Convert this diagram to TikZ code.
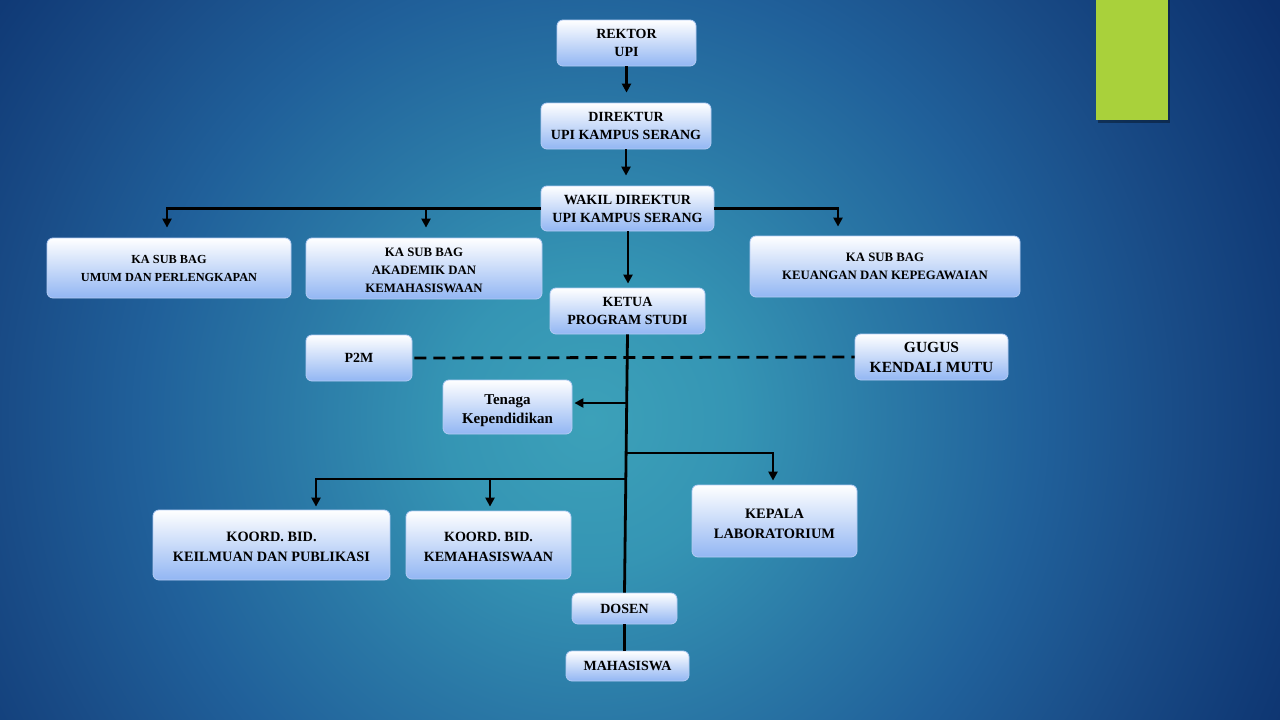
\documentclass[tikz,border=0pt]{standalone}
\usepackage{fontspec}
\setmainfont{Liberation Serif}
\usetikzlibrary{arrows.meta}
\definecolor{bga}{HTML}{3CA1B9}
\definecolor{bgb}{HTML}{3595B4}
\definecolor{bgc}{HTML}{2A78A6}
\definecolor{bgd}{HTML}{20609A}
\definecolor{bge}{HTML}{194B86}
\definecolor{bgf}{HTML}{113C78}
\definecolor{bgo}{HTML}{0C306C}
\definecolor{boxb}{HTML}{92B6F3}
\definecolor{boxedge}{HTML}{B4CCF4}
\definecolor{lime}{HTML}{A9D13B}
\pgfdeclareradialshading{bgshade}{\pgfpoint{0bp}{0bp}}{color(0bp)=(bga); color(4.5bp)=(bgb); color(9.5bp)=(bgc); color(14bp)=(bgd); color(18.5bp)=(bge); color(22bp)=(bgf); color(25bp)=(bgo); color(50bp)=(bgo)}
\tikzset{
  orgbox/.style={draw=boxedge, line width=0.8pt, rounded corners=6pt,
    top color=white, middle color=white!88!boxb, bottom color=boxb,
    align=center, inner sep=0pt, font=\bfseries\fontsize{14}{18}\selectfont},
  conn/.style={line width=2.8pt, black},
  arr/.style={conn, -{Triangle[length=9pt,width=9pt]}},
}
\begin{document}
\begin{tikzpicture}[x=1pt,y=-1pt]
\useasboundingbox (0,0) rectangle (1280,720);
\begin{scope}
\clip (0,0) rectangle (1280,720);
\fill[bgo] (0,0) rectangle (1280,720);
\shade[shading=bgshade] (590,420) circle (800);
\end{scope}
% green bar
\fill[black, opacity=0.35] (1098,0) rectangle (1170,123);
\fill[lime] (1096,0) rectangle (1168,120);
% boxes
\node[orgbox, minimum width=139pt, minimum height=46pt] (rektor) at (626.5,43) {REKTOR\\UPI};
\node[orgbox, minimum width=170pt, minimum height=46pt] (direktur) at (626,126) {DIREKTUR\\UPI KAMPUS SERANG};
\node[orgbox, minimum width=173pt, minimum height=45pt] (wakil) at (627.5,208.5) {WAKIL DIREKTUR\\UPI KAMPUS SERANG};
\node[orgbox, minimum width=244pt, minimum height=60pt, font=\bfseries\fontsize{12.3}{18}\selectfont] (umum) at (169,268) {KA SUB BAG\\UMUM DAN PERLENGKAPAN};
\node[orgbox, minimum width=236pt, minimum height=61pt, font=\bfseries\fontsize{12.8}{18}\selectfont] (akademik) at (424,268.5) {\rule{0pt}{12pt}KA SUB BAG\\AKADEMIK DAN\\KEMAHASISWAAN};
\node[orgbox, minimum width=270pt, minimum height=61pt, font=\bfseries\fontsize{12.8}{18}\selectfont] (keuangan) at (885,266.5) {KA SUB BAG\\KEUANGAN DAN KEPEGAWAIAN};
\node[orgbox, minimum width=155pt, minimum height=46pt] (ketua) at (627.5,311) {KETUA\\PROGRAM STUDI};
\node[orgbox, minimum width=106pt, minimum height=46pt] (p2m) at (359,358) {P2M};
\node[orgbox, minimum width=153pt, minimum height=46pt, font=\bfseries\fontsize{15.5}{20}\selectfont] (gugus) at (931.5,357) {GUGUS\\KENDALI MUTU};
\node[orgbox, minimum width=129pt, minimum height=54pt, font=\bfseries\fontsize{15}{19}\selectfont] (tenaga) at (507.5,407) {\rule{0pt}{18pt}Tenaga\\Kependidikan};
\node[orgbox, minimum width=237pt, minimum height=70pt, font=\bfseries\fontsize{14.3}{20}\selectfont] (keilmuan) at (271.5,545) {\rule{0pt}{14pt}KOORD. BID.\\KEILMUAN DAN PUBLIKASI};
\node[orgbox, minimum width=165pt, minimum height=68pt, font=\bfseries\fontsize{14.1}{20}\selectfont] (kemah) at (488.5,545) {\rule{0pt}{14pt}KOORD. BID.\\KEMAHASISWAAN};
\node[orgbox, minimum width=165pt, minimum height=72pt, font=\bfseries\fontsize{14.4}{20}\selectfont] (lab) at (774.5,521) {\rule{0pt}{15pt}KEPALA\\LABORATORIUM};
\node[orgbox, minimum width=105pt, minimum height=31pt] (dosen) at (624.5,608.5) {DOSEN};
\node[orgbox, minimum width=123pt, minimum height=30pt] (mhs) at (627.5,666) {MAHASISWA};
% connectors
\draw[arr, shorten >=10pt] (rektor.south) -- (rektor.south |- direktur.north);
\draw[arr, shorten >=10pt] (direktur.south) -- (direktur.south |- wakil.north);
\draw[arr, shorten >=10pt] (wakil.west) -| ([xshift=-2pt]umum.north);
\draw[arr, shorten >=10pt] ([xshift=2pt]akademik.north |- wakil.west) -- ([xshift=2pt]akademik.north);
\draw[arr, shorten >=9pt] (wakil.east) -| ([xshift=-47pt]keuangan.north);
\draw[arr, shorten >=4pt] ([xshift=0.5pt]wakil.south) -- ([xshift=0.5pt]wakil.south |- ketua.north);
\draw[conn] (ketua.south) -- (dosen.north);
\draw[conn] (dosen.south) -- (dosen.south |- mhs.north);
\draw[conn, dash pattern=on 12pt off 7pt] ([xshift=2pt]p2m.east) -- (gugus.west);
\coordinate (t1) at (627,403);
\coordinate (b1) at (627,453);
\coordinate (b2) at (626,479);
\draw[arr, shorten >=2pt] (t1) -- (t1 -| tenaga.east);
\draw[arr, shorten >=4pt] (b1) -| ([xshift=-1.5pt]lab.north);
\draw[arr, shorten >=3pt] (b2) -| ([xshift=44.5pt]keilmuan.north);
\draw[arr, shorten >=4pt] ([xshift=1.5pt]kemah.north |- b2) -- ([xshift=1.5pt]kemah.north);
\end{tikzpicture}
\end{document}
